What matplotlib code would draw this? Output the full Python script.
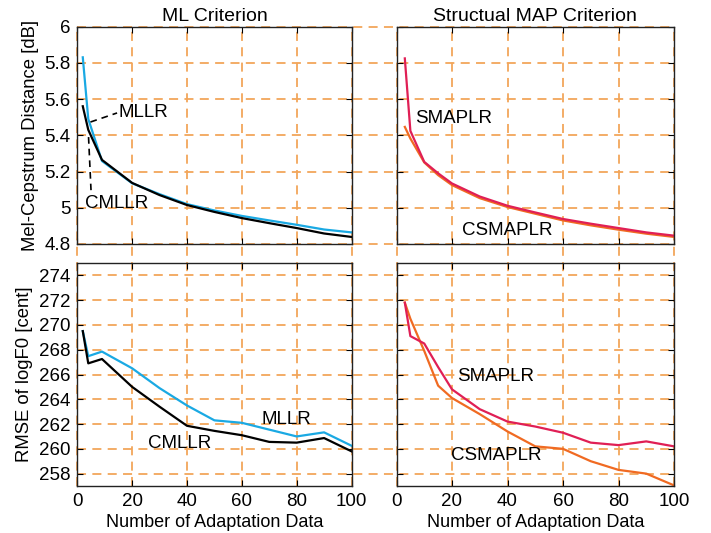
import matplotlib
matplotlib.use("Agg")
import matplotlib.pyplot as plt
from matplotlib.lines import Line2D

plt.rcParams['font.family'] = ['Liberation Sans', 'DejaVu Sans']
plt.rcParams['font.size'] = 13

# --- data ---
x_ml = [2, 4, 9, 20, 30, 40, 50, 60, 70, 80, 90, 100]
mcd_mllr = [5.83, 5.49, 5.258, 5.135, 5.075, 5.02, 4.985, 4.955, 4.93, 4.906, 4.88, 4.864]
mcd_cmllr = [5.56, 5.43, 5.264, 5.137, 5.07, 5.015, 4.977, 4.943, 4.915, 4.888, 4.858, 4.839]
f0_mllr = [269.5, 267.48, 267.85, 266.5, 264.9, 263.5, 262.3, 262.1, 261.55, 261.0, 261.33, 260.25]
f0_cmllr = [269.5, 266.9, 267.25, 265.0, 263.4, 261.86, 261.45, 261.1, 260.56, 260.5, 260.87, 259.8]

x_smap = [3, 5, 10, 15, 20, 30, 40, 50, 60, 70, 80, 90, 100]
mcd_smaplr = [5.824, 5.424, 5.253, 5.19, 5.134, 5.062, 5.011, 4.974, 4.938, 4.912, 4.888, 4.864, 4.846]
mcd_csmaplr = [5.446, 5.382, 5.25, 5.18, 5.125, 5.053, 5.004, 4.967, 4.93, 4.903, 4.879, 4.857, 4.839]
f0_smaplr = [271.8, 269.1, 268.5, 266.6, 264.8, 263.2, 262.2, 261.8, 261.3, 260.5, 260.3, 260.6, 260.2]
f0_csmaplr = [271.8, 270.5, 267.9, 265.1, 264.1, 262.8, 261.4, 260.2, 260.0, 259.0, 258.3, 258.0, 257.05]

xticks = [0, 20, 40, 60, 80, 100]
mcd_ticks = [4.8, 5.0, 5.2, 5.4, 5.6, 5.8, 6.0]
mcd_labels = ['4.8', '5', '5.2', '5.4', '5.6', '5.8', '6']
f0_ticks = [258, 260, 262, 264, 266, 268, 270, 272, 274]

c_mllr = '#1aa9e3'
c_cmllr = 'black'
c_smaplr = '#e01f55'
c_csmaplr = '#f06a22'
c_grid = '#f2a65a'

W, H = 711, 533
fig = plt.figure(figsize=(W / 100, H / 100), dpi=100)


def px_axes(x0, y0, x1, y1):
    return fig.add_axes([x0 / W, 1 - y1 / H, (x1 - x0) / W, (y1 - y0) / H])


ax_tl = px_axes(77.3, 26.5, 351.5, 244)
ax_tr = px_axes(396.5, 26.5, 674, 244)
ax_bl = px_axes(77.3, 263, 351.5, 486)
ax_br = px_axes(396.5, 263, 674, 486)

for ax in (ax_tl, ax_tr, ax_bl, ax_br):
    ax.set_facecolor('none')
    ax.set_xlim(0, 100)
    ax.set_xticks(xticks)
    ax.tick_params(direction='in', length=4, width=0.8, top=True, right=True,
                   labelsize=13.5, pad=5)
    for s in ax.spines.values():
        s.set_linewidth(1.0)
        s.set_color('#222222')

for ax in (ax_tl, ax_tr):
    ax.set_ylim(4.8, 6.0)
    ax.set_yticks(mcd_ticks)
    ax.set_xticklabels([])
for ax in (ax_bl, ax_br):
    ax.set_ylim(257, 275)
    ax.set_yticks(f0_ticks)
    ax.set_xlabel('Number of Adaptation Data', fontsize=13, labelpad=3)
ax_tl.set_yticklabels(mcd_labels)
ax_tr.set_yticklabels([])
ax_br.set_yticklabels([])

ax_tl.set_ylabel('Mel-Cepstrum Distance [dB]', fontsize=13.3, labelpad=4)
ax_bl.set_ylabel('RMSE of logF0 [cent]', fontsize=13.3, labelpad=4)
ax_tl.set_title('ML Criterion', fontsize=14, pad=4)
ax_tr.set_title('Structual MAP Criterion', fontsize=14, pad=4)

lw = 1.6
ax_tl.plot(x_ml, mcd_mllr, color=c_mllr, lw=lw)
ax_tl.plot(x_ml, mcd_cmllr, color=c_cmllr, lw=lw)
ax_bl.plot(x_ml, f0_mllr, color=c_mllr, lw=lw)
ax_bl.plot(x_ml, f0_cmllr, color=c_cmllr, lw=lw)
ax_tr.plot(x_smap, mcd_csmaplr, color=c_csmaplr, lw=lw)
ax_tr.plot(x_smap, mcd_smaplr, color=c_smaplr, lw=lw)
ax_br.plot(x_smap, f0_csmaplr, color=c_csmaplr, lw=lw)
ax_br.plot(x_smap, f0_smaplr, color=c_smaplr, lw=lw)

# labels with dashed leaders
txt = dict(fontsize=13.5, va='center')
ax_tl.text(15, 5.525, 'MLLR', **txt)
ax_tl.plot([4.8, 14.5], [5.473, 5.523], 'k--', lw=1.2, dashes=(4, 3))
ax_tl.text(2.9, 5.026, 'CMLLR', **txt)
ax_tl.plot([4.1, 5.0], [5.39, 5.097], 'k--', lw=1.2, dashes=(4, 3))
ax_tr.text(6.7, 5.49, 'SMAPLR', **txt)
ax_tr.text(23.5, 4.877, 'CSMAPLR', **txt)
ax_bl.text(67, 262.4, 'MLLR', **txt)
ax_bl.text(25.9, 260.4, 'CMLLR', **txt)
ax_br.text(21.7, 265.8, 'SMAPLR', **txt)
ax_br.text(19.5, 259.45, 'CSMAPLR', **txt)

# grid lines that run across the gaps between panels
inv = fig.transFigure.inverted()


def to_fig(ax, x, y):
    return inv.transform(ax.transData.transform((x, y)))


grid_kw = dict(color=c_grid, lw=1.3, linestyle=(0, (5, 3.5)), zorder=-1)
for left, right, ticks in ((ax_tl, ax_tr, mcd_ticks), (ax_bl, ax_br, f0_ticks)):
    for t in ticks:
        x0, y0 = to_fig(left, 0, t)
        x1, _ = to_fig(right, 100, ticks[0])
        fig.add_artist(Line2D([x0, x1], [y0, y0], **grid_kw))
for top, bottom in ((ax_tl, ax_bl), (ax_tr, ax_br)):
    for t in xticks:
        xf, y1 = to_fig(top, t, 6.0)
        _, y0 = to_fig(bottom, t, 257)
        fig.add_artist(Line2D([xf, xf], [y0, y1], **grid_kw))

fig.savefig('out.png', dpi=100)
